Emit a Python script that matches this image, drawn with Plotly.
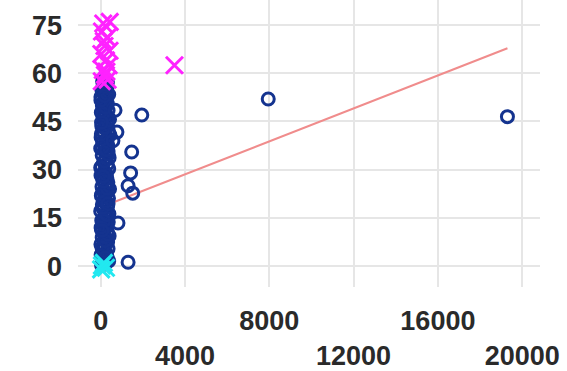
import plotly.graph_objects as go

# --- data ---
blue_x = [
    40, 220, 380, 130, 300, 20, 250, 90, 350,
    180, 10, 330, 260, 70, 400, 150, 310, 30,
    230, 110, 360, 50, 280, 190, 390, 0, 140,
    320, 80, 240, 160, 370, 30, 270, 120, 420,
    60, 210, 340, 100, 290, 15, 250, 170, 380,
    40, 310, 140, 220, 400, 70, 260, 350, 0,
    190, 330, 90, 280, 20, 440, 150, 360, 240,
    50, 300, 170, 420, 110, 260, 30, 350, 200,
    80, 320, 150, 250, 10, 380, 180, 60, 290,
    120, 230,
    110, 270, 60, 200, 340, 20, 150, 290, 90,
    230, 50, 310, 130, 260, 0, 190, 360, 70,
    280, 30, 170, 330, 100, 240, 10, 300, 140,
    210, 60, 350, 120, 270, 40, 190, 320, 90,
    680, 770, 580, 1470, 1420, 1300, 1520, 820, 1300, 1950, 7950, 19300,
]
blue_y = [
    0.3, 0.9, 1.6, 2.2, 2.8, 3.5, 4.1, 4.9, 5.4,
    6.2, 6.8, 7.5, 8.1, 8.9, 9.4, 10.2, 10.8, 11.6,
    12.3, 12.9, 13.7, 14.2, 15.0, 15.6, 16.3, 17.1, 17.7,
    18.4, 19.2, 19.8, 20.5, 21.1, 21.9, 22.6, 23.2, 24.0,
    24.7, 25.3, 26.1, 26.8, 27.4, 28.2, 28.9, 29.5, 30.3,
    31.0, 31.6, 32.4, 33.1, 33.7, 34.5, 35.2, 35.8, 36.6,
    37.3, 37.9, 38.7, 39.4, 40.0, 40.8, 41.5, 42.1, 42.9,
    43.6, 44.2, 45.0, 45.7, 46.3, 47.1, 47.8, 48.4, 49.2,
    49.9, 50.5, 51.3, 52.0, 52.6, 53.4, 54.1, 54.7, 55.5,
    56.2, 56.8,
    1.2, 3.0, 5.8, 7.9, 9.9, 12.0, 14.1, 16.0, 18.2,
    20.1, 22.3, 24.2, 26.4, 28.5, 30.6, 32.7, 34.8, 36.9,
    39.0, 41.1, 43.1, 45.3, 47.4, 49.5, 51.6, 53.7, 55.9,
    2.6, 11.1, 19.4, 27.9, 36.2, 44.7, 53.0, 57.2, 57.5,
    48.5, 41.7, 39.0, 35.5, 29.0, 25.0, 22.7, 13.4, 1.2, 47.0, 52.0, 46.5,
]
magenta_x = [120, 430, 60, 300, 180, 420, 30, 250, 380, 100, 200, 330, 50, 270, 150, 3500]
magenta_y = [75.5, 76.0, 73.0, 71.0, 68.5, 67.0, 66.0, 64.0, 62.5, 61.0, 59.5, 58.0, 57.5, 60.5, 70.0, 62.5]
cyan_x = [60, 250, 150, 20]
cyan_y = [0.2, -0.5, 1.0, -1.0]
trend_x = [0, 19300]
trend_y = [18.3, 67.8]

x_ticks = [0, 4000, 8000, 12000, 16000, 20000]
x_ticktext = ["0", "<br>4000", "8000", "<br>12000", "16000", "<br>20000"]
y_ticks = [0, 15, 30, 45, 60, 75]

fig = go.Figure()
fig.add_trace(go.Scatter(x=trend_x, y=trend_y, mode="lines",
                         line=dict(color="#f08c8c", width=2), hoverinfo="skip"))
fig.add_trace(go.Scatter(x=blue_x, y=blue_y, mode="markers",
                         marker=dict(symbol="circle-open", size=12, color="#14338f",
                                     line=dict(width=3, color="#14338f"))))
fig.add_trace(go.Scatter(x=magenta_x, y=magenta_y, mode="markers",
                         marker=dict(symbol="x-thin-open", size=17, color="#ff22ff",
                                     line=dict(width=3, color="#ff22ff"))))
fig.add_trace(go.Scatter(x=cyan_x, y=cyan_y, mode="markers",
                         marker=dict(symbol="x-thin-open", size=17, color="#22e8f0",
                                     line=dict(width=3, color="#22e8f0"))))

tick_font = dict(family="Liberation Sans, Arial, sans-serif", size=27, color="#2a2a2a", weight="bold")

fig.update_layout(
    width=567, height=371,
    margin=dict(l=78, r=27, t=0, b=84, autoexpand=False),
    paper_bgcolor="white", plot_bgcolor="white",
    showlegend=False,
    xaxis=dict(range=[-1077, 20845], tickmode="array", tickvals=x_ticks, ticktext=x_ticktext,
               showgrid=True, gridcolor="#e6e6e6", gridwidth=2, zeroline=False, automargin=False,
               showline=False, ticks="", tickfont=tick_font, ticklabelstandoff=15),
    yaxis=dict(range=[-6.5, 82.8], tickmode="array", tickvals=y_ticks,
               showgrid=True, gridcolor="#e6e6e6", gridwidth=2, zeroline=False, automargin=False,
               showline=False, ticks="", tickfont=tick_font, ticklabelstandoff=15),
)

fig.write_html("out.html", config={"displayModeBar": False},
               post_script="document.body.style.margin='0';document.body.style.padding='0';")
